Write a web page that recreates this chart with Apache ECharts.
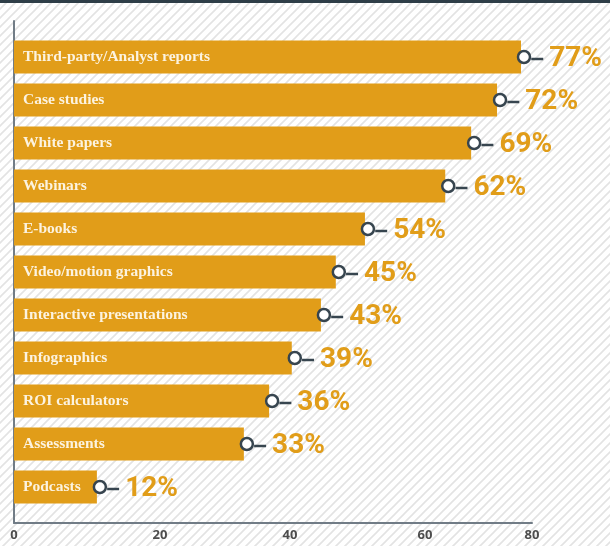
<!DOCTYPE html>
<html>
<head>
<meta charset="utf-8">
<script src="https://cdn.jsdelivr.net/npm/echarts@6/dist/echarts.min.js"></script>
<style>
html,body{margin:0;padding:0;background:#fff;}
#chart{width:610px;height:546px;}
</style>
</head>
<body>
<div id="chart"></div>
<script>
// Categories (top to bottom)
var categories = ['Third-party/Analyst reports','Case studies','White papers','Webinars','E-books','Video/motion graphics','Interactive presentations','Infographics','ROI calculators','Assessments','Podcasts'];
// Stated percentages (value labels)
var percentLabels = [77,72,69,62,54,45,43,39,36,33,12];
var barValues = [78.3,74.6,70.6,66.6,54.2,49.7,47.4,42.9,39.4,35.5,12.8];
// X axis ticks
var axisMin = 0, axisMax = 80, axisInterval = 20;
var tickLabels = ['0','20','40','60','80'];

var GOLD = '#E19D19';
var DARK = '#37454f';

function stripePattern(){
  var s = 9, c = document.createElement('canvas');
  c.width = s; c.height = s;
  var g = c.getContext('2d');
  g.fillStyle = '#ffffff'; g.fillRect(0,0,s,s);
  g.strokeStyle = '#e3e3e3'; g.lineWidth = 1.6;
  g.beginPath();
  g.moveTo(-1, s+1); g.lineTo(s+1, -1);
  g.moveTo(-1-s, s+1); g.lineTo(1, -1);
  g.moveTo(s-1, s+1); g.lineTo(2*s+1, -1);
  g.stroke();
  return {image: c, repeat: 'repeat'};
}

// the reference prints its middle tick labels a little to the right of their ticks
var labelShift = {20: 33, 40: 34, 60: 45};
var tickRich = {};
Object.keys(labelShift).forEach(function(k){
  tickRich['t' + k] = {padding:[0,0,0,labelShift[k]], color:'#4d4d4d', fontSize:13, fontWeight:'bold', fontFamily:'Open Sans'};
});

var chart = echarts.init(document.getElementById('chart'));
chart.setOption({
  animation: false,
  backgroundColor: stripePattern(),
  graphic: [{type:'rect', left:0, top:0, shape:{width:610, height:3}, style:{fill:'#2f3e48'}}],
  grid: [
    {left:14, right:78, top:21, bottom:23},
    {left:14, right:78, top:35.5, height:473}
  ],
  xAxis: [
    {gridIndex:0, type:'value', min:axisMin, max:axisMax, interval:axisInterval,
     axisLine:{show:true, lineStyle:{color:'#717c86', width:2}},
     axisTick:{show:false}, splitLine:{show:false},
     axisLabel:{color:'#4d4d4d', fontSize:13, fontWeight:'bold', fontFamily:'Open Sans', margin:6,
       formatter:function(v){
         var t = tickLabels[Math.round((v - axisMin) / axisInterval)];
         return labelShift[v] ? '{t' + v + '|' + t + '}' : t;
       },
       rich: tickRich}},
    {gridIndex:1, type:'value', min:axisMin, max:axisMax, show:false}
  ],
  yAxis: [
    {gridIndex:0, type:'value', min:0, max:1,
     axisLine:{show:true, lineStyle:{color:'#717c86', width:2}},
     axisTick:{show:false}, axisLabel:{show:false}, splitLine:{show:false}},
    {gridIndex:1, type:'category', data:categories, inverse:true, show:false}
  ],
  series: [
    {type:'bar', xAxisIndex:1, yAxisIndex:1, data:barValues, barWidth:33,
     itemStyle:{color:GOLD},
     label:{show:true, position:'insideLeft', distance:9,
       formatter:function(p){return categories[p.dataIndex];},
       color:'#fcf3e0', fontFamily:'Liberation Serif', fontWeight:'bold', fontSize:15.5}},
    {type:'scatter', xAxisIndex:1, yAxisIndex:1, data:barValues, symbol:'circle', symbolSize:12,
     symbolOffset:[3,0], z:5,
     itemStyle:{color:'#ffffff', borderColor:DARK, borderWidth:2.5, opacity:1},
     label:{show:true, position:'right', distance:0, offset:[0,2],
       formatter:function(p){return '{ln|}{v|' + percentLabels[p.dataIndex] + '%}';},
       rich:{
         ln:{width:12, height:2.5, backgroundColor:DARK, verticalAlign:'middle'},
         v:{color:GOLD, fontFamily:'Roboto', fontWeight:'bold', fontSize:28, padding:[0,0,0,6], verticalAlign:'middle'}
       }}}
  ]
});
</script>
</body>
</html>
